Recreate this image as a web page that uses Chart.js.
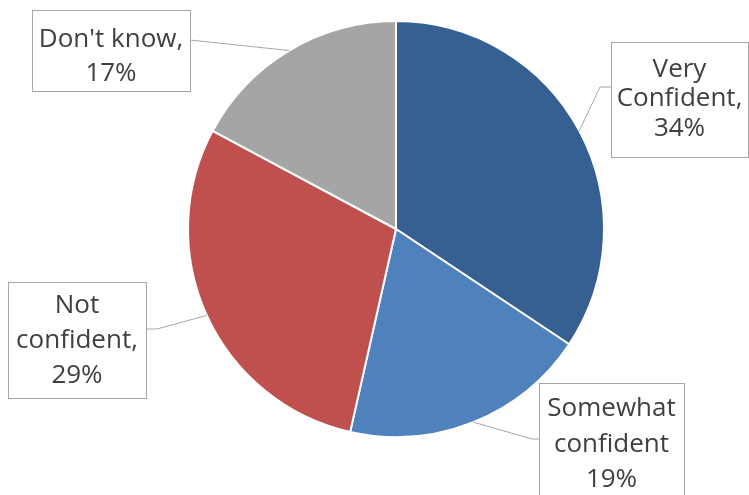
<!DOCTYPE html>
<html>
<head>
<meta charset="utf-8">
<script src="https://cdn.jsdelivr.net/npm/chart.js@4/dist/chart.umd.min.js"></script>
<style>
  html, body { margin: 0; padding: 0; background: #ffffff; }
  #wrap { width: 749px; height: 495px; position: relative; }
</style>
</head>
<body>
<div id="wrap"><canvas id="c" width="749" height="495"></canvas></div>
<script>
// Survey answers, clockwise from 12 o'clock
const categories = ['Very Confident', 'Somewhat confident', 'Not confident', "Don't know"];
const values = [34, 19, 29, 17];
// Text lines shown in each callout (the percentage is appended)
const calloutLines = [
  ['Very', 'Confident,'],
  ['Somewhat', 'confident'],
  ['Not', 'confident,'],
  ["Don't know,"]
];
const sliceColors = ['#376092', '#4F81BD', '#C0504D', '#A5A5A5'];

// Callout boxes: position, size, leader attachment, first baseline and line step
const boxes = [
  { x: 611, y: 42,  w: 137, h: 115, side: 'left',  ly: 87,  elbow: 11, base: 76.5, lh: 29.8 },
  { x: 539, y: 383, w: 145, h: 118, side: 'left',  ly: 439, elbow: 7,  base: 416,  lh: 35.5 },
  { x: 8,   y: 282, w: 138, h: 116, side: 'right', ly: 329, elbow: 11, base: 313,  lh: 35 },
  { x: 32,  y: 10,  w: 158, h: 81,  side: 'right', ly: 40,  elbow: 0,  base: 46.5, lh: 34 }
];

const calloutPlugin = {
  id: 'callouts',
  afterDatasetsDraw(chart) {
    const ctx = chart.ctx;
    const meta = chart.getDatasetMeta(0);
    ctx.save();
    meta.data.forEach((arc, i) => {
      const b = boxes[i];
      const p = arc.getProps(['x', 'y', 'startAngle', 'endAngle', 'outerRadius'], true);
      const mid = (p.startAngle + p.endAngle) / 2;
      const ax = p.x + Math.cos(mid) * p.outerRadius;
      const ay = p.y + Math.sin(mid) * p.outerRadius;
      const bx = b.side === 'left' ? b.x : b.x + b.w;
      const ex = b.side === 'left' ? bx - b.elbow : bx + b.elbow;

      // leader line
      ctx.strokeStyle = '#A6A6A6';
      ctx.lineWidth = 1;
      ctx.beginPath();
      ctx.moveTo(ax, ay);
      ctx.lineTo(ex, b.ly);
      ctx.lineTo(bx, b.ly);
      ctx.stroke();

      // box
      ctx.fillStyle = '#ffffff';
      ctx.fillRect(b.x, b.y, b.w, b.h);
      ctx.strokeStyle = '#A6A6A6';
      ctx.strokeRect(b.x + 0.5, b.y + 0.5, b.w, b.h);

      // text
      const lines = calloutLines[i].concat([values[i] + '%']);
      ctx.fillStyle = '#404040';
      ctx.font = '26px "Open Sans", sans-serif';
      ctx.textAlign = 'center';
      ctx.textBaseline = 'alphabetic';
      const cx = b.x + b.w / 2;
      lines.forEach((t, k) => ctx.fillText(t, cx, b.base + k * b.lh));
    });
    ctx.restore();
  }
};

new Chart(document.getElementById('c'), {
  type: 'pie',
  data: {
    labels: categories,
    datasets: [{
      data: values,
      backgroundColor: sliceColors,
      borderColor: '#ffffff',
      borderWidth: 2,
      radius: 208
    }]
  },
  options: {
    responsive: false,
    animation: false,
    rotation: 0,
    layout: { padding: { left: 43, right: 0, top: 0, bottom: 37 } },
    plugins: {
      legend: { display: false },
      tooltip: { enabled: false }
    }
  },
  plugins: [calloutPlugin]
});
</script>
</body>
</html>
